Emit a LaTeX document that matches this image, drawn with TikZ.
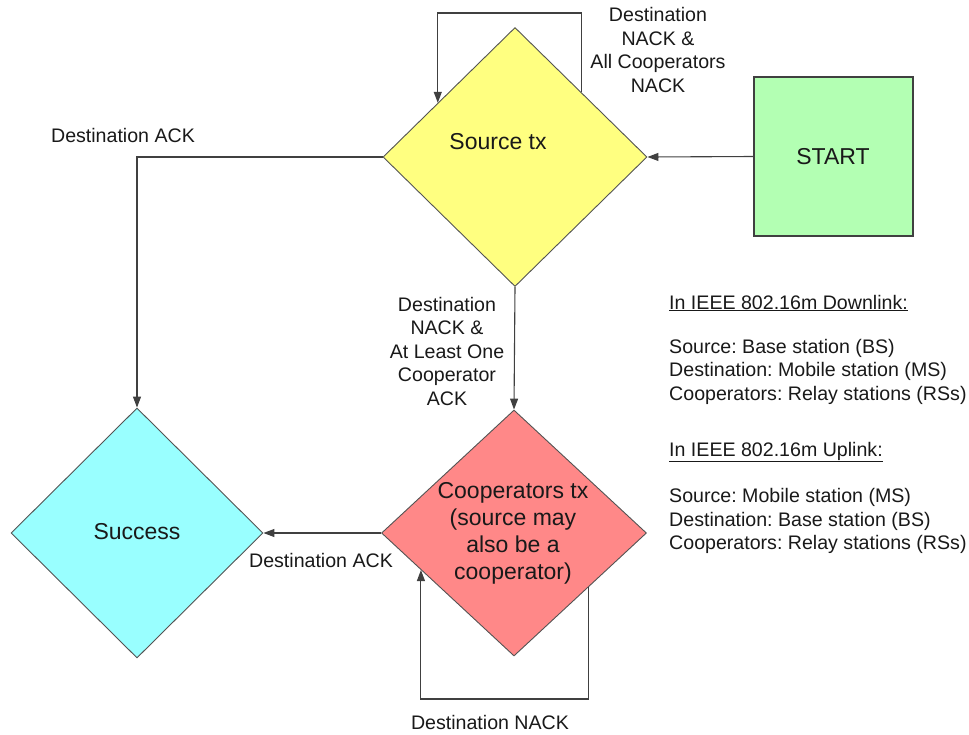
\documentclass[tikz,border=0pt]{standalone}
\usepackage{fontspec}
\setmainfont{Liberation Sans}
\frenchspacing
\usetikzlibrary{shapes.geometric,arrows.meta,calc}
\definecolor{srcfill}{RGB}{255,255,128}
\definecolor{coopfill}{RGB}{255,136,136}
\definecolor{succfill}{RGB}{153,255,255}
\definecolor{startfill}{RGB}{179,255,179}
\definecolor{linecol}{RGB}{64,64,64}
\definecolor{txtcol}{RGB}{25,25,25}
\tikzset{
  dia/.style={diamond,draw=linecol!90,line width=0.9pt,inner sep=0pt},
  bigtxt/.style={font=\fontsize{23}{27}\selectfont,text=txtcol,align=center,inner sep=0pt},
  lbl/.style={font=\fontsize{19.6}{23.5}\selectfont,text=txtcol,align=center,inner sep=0pt},
  info/.style={font=\fontsize{19.6}{23.5}\selectfont,text=txtcol,align=left,inner sep=0pt,anchor=west},
  conn/.style={draw=linecol,line width=1.1pt,-{Triangle[length=11pt,width=8pt]}}
}
\begin{document}
\begin{tikzpicture}[x=1pt,y=-1pt]
\useasboundingbox (0,0) rectangle (969,734);
% shapes
\node[dia,fill=srcfill,minimum width=264pt,minimum height=259pt] (Source) at (515,157) {};
\node[dia,fill=coopfill,minimum width=265pt,minimum height=246pt] (Coop) at (514,533) {};
\node[dia,fill=succfill,minimum width=252pt,minimum height=250pt] (Success) at (137,533) {};
\node[draw=linecol,line width=1.2pt,fill=startfill,minimum width=159pt,minimum height=159pt,inner sep=0pt] (Start) at (833.5,156.5) {};
% texts in shapes
\node[bigtxt] (SourceT) at (498,142) {Source tx};
\node[bigtxt] (StartT) at (833,157) {START};
\node[bigtxt] (SuccessT) at (137,532) {Success};
\node[bigtxt] (CoopT) at (513,533) {Cooperators tx\\(source may\\also be a\\cooperator)};
% helper coordinates
\coordinate (sIn) at ($(Source.north)!0.583!(Source.west)$);
\coordinate (topY) at (500,13);
\coordinate (cOut) at ($(Coop.south)!0.56!(Coop.east)$);
\coordinate (cIn) at ($(Coop.south)!0.70!(Coop.west)$);
\coordinate (botY) at (500,699);
% connectors
\draw[conn] (Start.west) -- (Source.east);
\draw[conn] (Source.west) -| (Success.north);
\draw[conn] (Source.south) -- (Coop.north);
\draw[conn] (Coop.west) -- (Success.east);
\draw[conn] (Source.north east) |- (topY) -| (sIn);
\draw[conn] (cOut) |- (botY) -| (cIn);
% connector labels
\node[lbl] (L1) at (658,50) {Destination\\NACK \&\\All Cooperators\\NACK};
\node[lbl] (L2) at (123,135) {Destination ACK};
\node[lbl] (L3) at (447,351) {Destination\\NACK \&\\At Least One\\Cooperator\\ACK};
\node[lbl] (L4) at (321,560) {Destination ACK};
\node[lbl] (L5) at (490,722) {Destination NACK};
% info text
\node[info] (DLh) at (669,303) {\underline{In IEEE 802.16m Downlink:}};
\node[info] (DLb) at (669,371.5) {Source: Base station (BS)\\Destination: Mobile station (MS)\\Cooperators: Relay stations (RSs)};
\node[info] (ULh) at (669,452) {\underline{In IEEE 802.16m Uplink:}};
\node[info] (ULb) at (669,521) {Source: Mobile station (MS)\\Destination: Base station (BS)\\Cooperators: Relay stations (RSs)};
\end{tikzpicture}
\end{document}
